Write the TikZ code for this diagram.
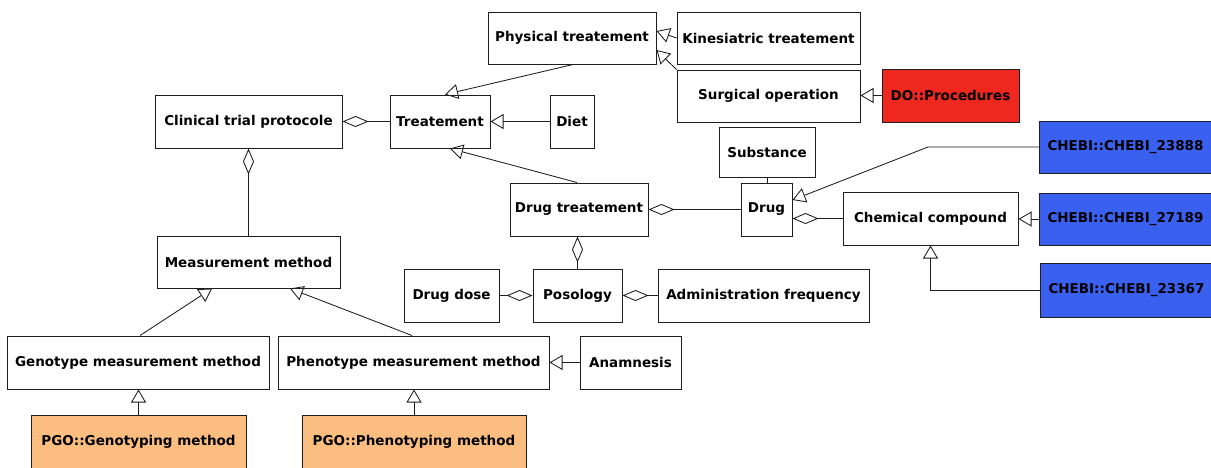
\documentclass[tikz,border=0pt]{standalone}
\usepackage{fontspec}
\setmainfont{DejaVu Sans}
\usetikzlibrary{arrows.meta,calc}
\definecolor{dored}{RGB}{238,40,30}
\definecolor{chebiblue}{RGB}{58,96,240}
\definecolor{pgoorange}{RGB}{251,190,128}
\definecolor{edge}{RGB}{30,30,30}
\tikzset{
  box/.style={draw=edge, line width=1pt, fill=white, inner sep=0pt, font=\fontsize{13.5}{16}\selectfont\bfseries, text=black},
  redbox/.style={box, fill=dored},
  bluebox/.style={box, fill=chebiblue, anchor=west, text width=185pt, align=left, inner xsep=8pt, minimum height=52pt},
  orangebox/.style={box, fill=pgoorange},
  conn/.style={draw=edge, line width=0.85pt},
  gen/.style={conn, -{Triangle[open,length=13pt,width=15pt]}},
  agg/.style={conn, -{Diamond[open,length=26pt,width=11pt]}}
}
\begin{document}
\begin{tikzpicture}[x=1pt,y=-1pt]
\useasboundingbox[fill=white] (0,0) rectangle (1211,467);
% nodes
\node[box, minimum width=168pt, minimum height=52pt] (phys) at (572,38) {Physical treatement};
\node[box, minimum width=183pt, minimum height=52pt] (kines) at (768.5,38) {Kinesiatric treatement};
\node[box, minimum width=183pt, minimum height=52pt] (surg) at (768.5,96) {Surgical operation};
\node[redbox, minimum width=137pt, minimum height=53pt] (doproc) at (950.5,95.5) {DO::Procedures};
\node[box, minimum width=187pt, minimum height=53pt] (ctp) at (248.5,121.5) {Clinical trial protocole};
\node[box, minimum width=100pt, minimum height=53pt] (treat) at (440,121.5) {Treatement};
\node[box, minimum width=44pt, minimum height=53pt] (diet) at (572,121.5) {Diet};
\node[box, minimum width=96pt, minimum height=50pt] (subst) at (767,152) {Substance};
\node[bluebox] (chebi1) at (1039,147) {CHEBI::CHEBI\_23888};
\node[box, minimum width=138pt, minimum height=53pt] (drugt) at (579,209.5) {Drug treatement};
\node[box, minimum width=51pt, minimum height=53pt] (drug) at (766.5,209.5) {Drug};
\node[box, minimum width=175pt, minimum height=53pt] (chem) at (930.5,218.5) {Chemical compound};
\node[bluebox] (chebi2) at (1039,219) {CHEBI::CHEBI\_27189};
\node[box, minimum width=183pt, minimum height=52pt] (measure) at (248.5,262) {Measurement method};
\node[bluebox, minimum height=54pt] (chebi3) at (1040,290) {CHEBI::CHEBI\_23367};
\node[box, minimum width=95pt, minimum height=53pt] (dose) at (451.5,295.5) {Drug dose};
\node[box, minimum width=89pt, minimum height=53pt] (poso) at (577.5,295.5) {Posology};
\node[box, minimum width=211pt, minimum height=53pt] (admin) at (763.5,295.5) {Administration frequency};
\node[box, minimum width=262pt, minimum height=53pt] (geno) at (138,362.5) {Genotype measurement method};
\node[box, minimum width=271pt, minimum height=53pt] (pheno) at (413.5,362.5) {Phenotype measurement method};
\node[box, minimum width=101pt, minimum height=53pt] (anam) at (630.5,362.5) {Anamnesis};
\node[orangebox, minimum width=215pt, minimum height=53pt] (pgog) at (138.5,441.5) {PGO::Genotyping method};
\node[orangebox, minimum width=224pt, minimum height=53pt] (pgop) at (414,441.5) {PGO::Phenotyping method};
\coordinate (bend1) at (928,147);
% connectors
\draw[gen] (kines.west) -- ([yshift=7pt]phys.east);
\draw[gen] (surg.north west) -- ([yshift=-12pt]phys.east);
\draw[gen] (doproc.west) -- (doproc.west -| surg.east);
\draw[gen] ([xshift=1pt]phys.south) -- ([xshift=5pt]treat.north);
\draw[agg] (treat.west) -- (ctp.east);
\draw[gen] (diet.west) -- (treat.east);
\draw[agg] (measure.north) -- (ctp.south);
\draw[gen] ([xshift=-2pt]drugt.north) -- ([xshift=10pt]treat.south);
\draw[agg] (drug.west) -- (drugt.east);
\draw[agg] (poso.north) -- (poso.north |- drugt.south);
\draw[conn] (subst.south) -- (subst.south |- drug.north);
\draw[gen] (chebi1.west) -- (bend1) -- ([yshift=9.5pt]drug.east);
\draw[agg] (chem.west) -- (chem.west -| drug.east);
\draw[gen] (chebi2.west) -- (chebi2.west -| chem.east);
\draw[gen] (chebi3.west) -- (chem.south |- chebi3.west) -- (chem.south);
\draw[agg] (dose.east) -- (poso.west);
\draw[agg] (admin.west) -- (poso.east);
\draw[gen] ([xshift=2pt]geno.north) -- ([xshift=-36.5pt]measure.south);
\draw[gen] ([xshift=-1.5pt]pheno.north) -- ([xshift=41.5pt]measure.south);
\draw[gen] (anam.west) -- (pheno.east);
\draw[gen] (pgog.north) -- (pgog.north |- geno.south);
\draw[gen] (pgop.north) -- (pgop.north |- pheno.south);
\end{tikzpicture}
\end{document}
